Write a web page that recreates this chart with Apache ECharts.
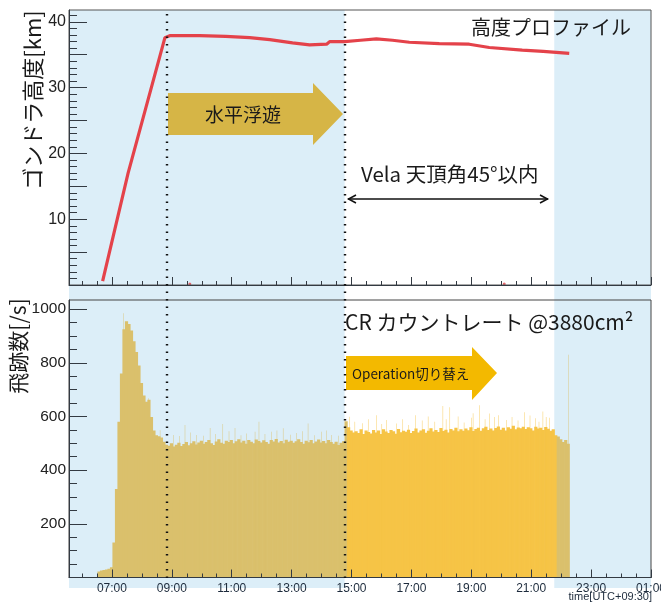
<!DOCTYPE html>
<html>
<head>
<meta charset="utf-8">
<script src="https://cdn.jsdelivr.net/npm/echarts@6/dist/echarts.min.js"></script>
<style>
  html, body { margin: 0; padding: 0; background: #ffffff; }
  #chart { width: 661px; height: 604px; }
</style>
</head>
<body>
<div id="chart"></div>
<script>
// Time is in hours after local midnight (UTC+09:30); values above 24 are the next day.
const timeMin = 5.567;
const timeMax = 25;
const hourLabels = [7, 9, 11, 13, 15, 17, 19, 21, 23, 25];

// Flight phases
const levelFlightStart = 8.82;   // 08:49 reaches float altitude
const operationSwitch = 14.77;   // 14:46 operation mode changed
const velaWindowEnd = 21.77;     // 21:46 Vela leaves 45 deg zenith window

// Gondola altitude [km]
const altTime = [6.69, 7.54, 8.77, 8.93, 9.93, 10.80, 11.60, 12.27,
                 13.03, 13.60, 14.17, 14.27, 14.77, 15.30, 15.83, 16.37, 16.93, 17.93,
                 18.93, 19.60, 20.70, 21.40, 22.27];
const altKm   = [0.6, 17.0, 37.6, 37.9, 37.9, 37.8, 37.6, 37.3,
                 36.8, 36.5, 36.6, 37.0, 37.0, 37.2, 37.4, 37.2, 36.9, 36.7,
                 36.6, 36.1, 35.7, 35.5, 35.2];
// isolated readings logged near ground level
const altStray = [[9.60, 0.15], [20.10, 0.15]];

// Cosmic-ray track rate [/s], 5-minute bins starting 06:31
const binStartHour = 6 + 31 / 60;
const binMinutes = 5;
const counts = [
  22, 26, 28, 30, 33, 38,
  130, 330, 580, 760, 925, 955, 945, 920, 880, 840, 790, 725,
  678, 655, 662, 598, 548, 530, 526, 522, 506, 495, 491, 500,
  488, 495, 502, 490, 497, 505, 493, 500, 508, 496, 503, 510,
  498, 505, 512, 500, 494, 507, 515, 502, 498, 510, 505, 512,
  500, 508, 515, 503, 510, 498, 512, 506, 500, 514, 509, 503,
  511, 505, 498, 512, 507, 516, 503, 509, 500, 513, 506, 510,
  502, 508, 515, 505, 498, 510, 504, 512, 500, 507, 514, 503,
  509, 500, 512, 505, 498, 506, 494, 502, 508,
  582, 560, 548, 540, 545, 538, 552, 535, 548, 542, 537, 550,
  540, 548, 535, 552, 544, 538, 550, 545, 536, 553, 541, 547,
  543, 551, 538, 546, 555, 540, 548, 552, 539, 547, 556, 544,
  550, 542, 557, 546, 551, 540, 553, 548, 558, 545, 552, 547,
  555, 549, 560, 546, 553, 558, 547, 556, 562, 550, 555, 548,
  557, 563, 551, 558, 548, 560, 554, 565, 552, 559, 556, 562,
  553, 560, 556, 548, 562, 555, 558, 550, 561, 554, 547, 552,
  530, 525, 515, 505, 512, 498
];
// short single-minute excursions above the binned rate
const spikeTime  = [7.38, 8.21, 8.60, 9.04, 9.25, 9.43, 9.62, 9.82, 10.05, 10.27, 10.45, 10.69,
                    10.90, 11.10, 11.30, 11.49, 11.77, 11.90, 12.10, 12.32, 12.50, 12.71, 12.95,
                    13.16, 13.35, 13.54, 13.75, 13.99, 14.15, 14.32, 14.55,
                    14.93, 15.10, 15.35, 15.55, 15.82, 16.00, 16.16, 16.49, 16.70, 16.90, 17.13,
                    17.35, 17.55, 17.77, 18.04, 18.15, 18.27, 18.55, 18.75, 18.99, 19.05, 19.27,
                    19.45, 19.60, 19.77, 19.90, 20.16, 20.35, 20.55, 20.77, 20.95, 21.13, 21.25,
                    21.38, 21.49, 21.60, 22.23];
const spikeRate  = [985, 668, 549, 531, 527, 568, 540, 531, 528, 557, 535, 572,
                    545, 557, 530, 537, 543, 580, 535, 543, 548, 556, 532,
                    538, 545, 574, 530, 543, 548, 531, 528,
                    599, 580, 575, 590, 605, 572, 587, 574, 590, 568, 605,
                    585, 600, 580, 639, 590, 634, 600, 578, 595, 612, 642,
                    590, 611, 598, 605, 587, 598, 585, 616, 604, 593, 580,
                    619, 598, 595, 830];

const CJK = '"Noto Sans CJK JP", "Noto Sans", sans-serif';
const LATIN = '"Liberation Sans", Arial, sans-serif';
const KHAKI = '#DAC06C';
const YELLOW = '#F6C446';
const SKY = '#DCEEF8';
const AXIS = '#333a42';

function rangeStep(a, b, s) { const out = []; for (let v = a; v <= b + 1e-9; v += s) out.push(+v.toFixed(3)); return out; }
const halfHourTicks = rangeStep(6, 25, 0.5);

const hist = counts.map((c, i) => {
  const t0 = binStartHour + i * binMinutes / 60;
  return [t0, c, t0 + binMinutes / 60];
});
const spikes = spikeTime.map((t, i) => [t, spikeRate[i], t + 1.2 / 60]);

function fillFor(t) {
  return (t >= operationSwitch - 1e-6 && t < velaWindowEnd - 1e-6) ? YELLOW : KHAKI;
}
// each bin is a rectangle from its opening time to its closing time; neighbours overlap
// by a fraction of a pixel so no seam shows between them
function binRect(opacity, overlap) {
  return function (params, api) {
    const a = api.coord([api.value(0), api.value(1)]);
    const b = api.coord([api.value(2), 0]);
    return {
      type: 'rect',
      shape: { x: a[0], y: a[1], width: b[0] - a[0] + overlap, height: b[1] - a[1] },
      style: { fill: fillFor(api.value(0)), opacity: opacity }
    };
  };
}
function hhmm(v) { return String(Math.round(v) % 24).padStart(2, '0') + ':00'; }

function timeAxes(grid, withLabels) {
  return [
    { type: 'value', gridIndex: grid, min: timeMin, max: timeMax, position: 'bottom', z: 4,
      axisLine: { show: true, lineStyle: { color: AXIS, width: 1 } },
      axisTick: { show: true, inside: true, length: 8, customValues: hourLabels, lineStyle: { color: AXIS } },
      axisLabel: withLabels
        ? { show: true, customValues: hourLabels, formatter: hhmm, fontSize: 12, color: '#1d2b3c', margin: 5, fontFamily: LATIN }
        : { show: false },
      splitLine: { show: false } },
    { type: 'value', gridIndex: grid, min: timeMin, max: timeMax, position: 'bottom', z: 4,
      axisLine: { show: false },
      axisTick: { show: true, inside: true, length: 4, customValues: halfHourTicks, lineStyle: { color: AXIS } },
      axisLabel: { show: false }, splitLine: { show: false } }
  ];
}
function valueAxes(grid, max, majorTicks, labels, minorTicks, fontSize) {
  return [
    { type: 'value', gridIndex: grid, min: 0, max: max, position: 'left', z: 4,
      axisLine: { show: true, lineStyle: { color: AXIS, width: 1 } },
      axisTick: { show: true, inside: true, length: 18, customValues: majorTicks, lineStyle: { color: AXIS } },
      axisLabel: { show: true, customValues: labels, formatter: v => String(v), fontSize: fontSize, color: '#222', margin: 3, fontFamily: LATIN },
      splitLine: { show: false } },
    { type: 'value', gridIndex: grid, min: 0, max: max, position: 'left', z: 4,
      axisLine: { show: false },
      axisTick: { show: true, inside: true, length: 8, customValues: minorTicks, lineStyle: { color: AXIS } },
      axisLabel: { show: false }, splitLine: { show: false } }
  ];
}
function hiddenAxis(grid, min, max) {
  return { type: 'value', gridIndex: grid, min: min, max: max, show: false };
}

const chart = echarts.init(document.getElementById('chart'), null, { renderer: 'canvas' });

chart.setOption({
  animation: false,
  grid: [
    { left: 69, right: 10, top: 10, height: 275, show: true, borderColor: '#555', borderWidth: 1, z: 4, outerBoundsMode: 'none', containLabel: false },
    { left: 69, right: 10, top: 300, height: 277.5, show: true, borderColor: '#444', borderWidth: 1, z: 4, outerBoundsMode: 'none', containLabel: false },
    { left: 69, right: 10, top: 10, bottom: 16, outerBoundsMode: 'none' },
    { left: 69, right: 10, top: 10, bottom: 26, outerBoundsMode: 'none' }
  ],
  xAxis: [
    ...timeAxes(0, false),
    ...timeAxes(1, true),
    hiddenAxis(2, timeMin, timeMax),
    hiddenAxis(3, timeMin, timeMax)
  ],
  yAxis: [
    ...valueAxes(0, 41.8, [0, 5, 10, 15, 20, 25, 30, 35, 40], [10, 20, 30, 40], rangeStep(1, 41, 1), 16),
    ...valueAxes(1, 1034, [0, 200, 400, 600, 800, 1000], [200, 400, 600, 800, 1000], rangeStep(50, 1000, 50), 15.5),
    hiddenAxis(2, 0, 1),
    hiddenAxis(3, 0, 1)
  ],
  series: [
    { // shaded observation windows
      type: 'line', xAxisIndex: 4, yAxisIndex: 4, data: [], silent: true, z: 0,
      markArea: {
        silent: true,
        itemStyle: { color: SKY },
        data: [
          [{ xAxis: timeMin }, { xAxis: operationSwitch }],
          [{ xAxis: velaWindowEnd }, { xAxis: timeMax }]
        ]
      }
    },
    { // phase boundaries
      type: 'line', xAxisIndex: 5, yAxisIndex: 5, data: [], silent: true, z: 8,
      markLine: {
        silent: true, symbol: 'none', label: { show: false },
        lineStyle: { color: '#111', width: 2.4, type: [1.6, 5.9] },
        data: [{ xAxis: levelFlightStart }, { xAxis: operationSwitch }]
      }
    },
    {
      name: 'altitude', type: 'line', xAxisIndex: 0, yAxisIndex: 0, z: 3,
      data: altTime.map((t, i) => [t, altKm[i]]),
      showSymbol: false, symbol: 'none',
      lineStyle: { color: '#E4424A', width: 3.2 }
    },
    {
      name: 'altitude-stray', type: 'scatter', xAxisIndex: 0, yAxisIndex: 0, z: 3,
      data: altStray, symbolSize: 3, itemStyle: { color: '#E4424A' }
    },
    {
      name: 'rate', type: 'custom', xAxisIndex: 2, yAxisIndex: 2, z: 2,
      renderItem: binRect(1, 0.7), data: hist, clip: true,
      encode: { x: [0, 2], y: 1 }
    },
    {
      name: 'rate-spikes', type: 'custom', xAxisIndex: 2, yAxisIndex: 2, z: 2,
      renderItem: binRect(0.7, 0), data: spikes, clip: true,
      encode: { x: [0, 2], y: 1 }
    }
  ],
  graphic: [
    { type: 'polygon', z: 5,
      shape: { points: [[168, 93], [313, 93], [313, 83], [343, 114], [313, 145], [313, 135], [168, 135]] },
      style: { fill: '#D6B546' } },
    { type: 'text', z: 6, x: 243, y: 115,
      style: { text: '水平浮遊', font: '19px ' + CJK, fill: '#1a1a1a', textAlign: 'center', textVerticalAlign: 'middle' } },
    { type: 'polygon', z: 5,
      shape: { points: [[346, 356], [472, 356], [472, 347], [497, 373], [472, 400], [472, 390], [346, 390]] },
      style: { fill: '#F3B900' } },
    { type: 'text', z: 6, x: 352, y: 374,
      style: { text: 'Operation切り替え', font: '13.5px ' + CJK, fill: '#1a1a1a', textAlign: 'left', textVerticalAlign: 'middle' } },
    { type: 'text', z: 6, x: 471, y: 27,
      style: { text: '高度プロファイル', font: '20px ' + CJK, fill: '#1a1a1a', textAlign: 'left', textVerticalAlign: 'middle' } },
    { type: 'text', z: 6, x: 361, y: 174,
      style: { text: 'Vela 天頂角45°以内', font: '20.5px ' + CJK, fill: '#1a1a1a', textAlign: 'left', textVerticalAlign: 'middle' } },
    { type: 'line', z: 6, shape: { x1: 348, y1: 199, x2: 548, y2: 199 }, style: { stroke: '#111', lineWidth: 1.5 } },
    { type: 'polyline', z: 6, shape: { points: [[356, 195], [348.5, 199], [356, 203]] }, style: { stroke: '#111', lineWidth: 1.5, fill: null } },
    { type: 'polyline', z: 6, shape: { points: [[540, 195], [547.5, 199], [540, 203]] }, style: { stroke: '#111', lineWidth: 1.5, fill: null } },
    { type: 'text', z: 6, x: 345, y: 322,
      style: { text: 'CR カウントレート @3880cm²', font: '21px ' + CJK, fill: '#1a1a1a', textAlign: 'left', textVerticalAlign: 'middle' } },
    { type: 'text', z: 6, x: 33, y: 100, rotation: Math.PI / 2,
      style: { text: 'ゴンドラ高度[km]', font: '22px ' + CJK, fill: '#1a1a1a', textAlign: 'center', textVerticalAlign: 'middle' } },
    { type: 'text', z: 6, x: 18, y: 346, rotation: Math.PI / 2,
      style: { text: '飛跡数[/s]', font: '21px ' + CJK, fill: '#1a1a1a', textAlign: 'center', textVerticalAlign: 'middle' } },
    { type: 'text', z: 6, x: 652, y: 597,
      style: { text: 'time[UTC+09:30]', font: '11px ' + LATIN, fill: '#1d2b3c', textAlign: 'right', textVerticalAlign: 'middle' } }
  ]
});
</script>
</body>
</html>
